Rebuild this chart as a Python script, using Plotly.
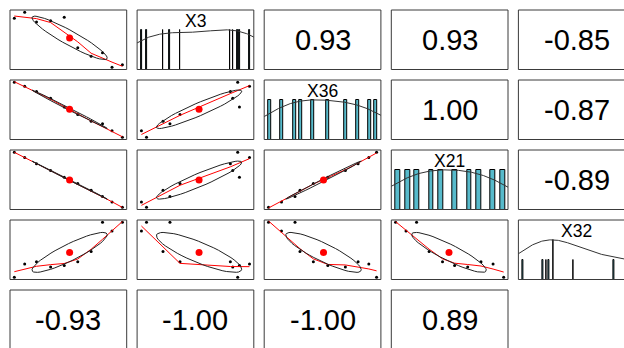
import numpy as np
import plotly.graph_objects as go

var_a = [0.0, 9.6, 20.5, 33.6, 46.2, 58.7, 71.1, 81.6, 90.4, 100.0]   # first (unlabelled) column variable
X3 = [89.1, 100.0, 82.3, 84.5, 90.7, 35.7, 20.0, 26.4, 0.0, 4.7]
X36 = [100.0, 92.8, 82.9, 71.1, 54.9, 41.5, 29.1, 24.5, 12.0, 0.0]
X21 = [100.0, 90.2, 79.0, 66.7, 54.6, 43.4, 31.0, 19.4, 9.6, 0.0]
X32 = [0.0, 24.0, 28.3, 18.9, 21.5, 28.3, 46.9, 100.0, 84.0, 100.0]

diag_labels = ["X3", "X36", "X21", "X32"]
cor_row1 = [0.93, 0.93, -0.85]          # row 1, columns 3-5
cor_row2 = [1.00, -0.87]                # row 2, columns 4-5
cor_row3 = [-0.89]                      # row 3, column 5
cor_row5 = [-0.93, -1.00, -1.00, 0.89]  # row 5, columns 1-4

# ---------------- style / geometry ----------------
W, H = 624, 348
PW, PH = 116.7, 59.5
COL_LEFT = [10 + 127.1 * j for j in range(5)]
ROW_TOP = [10 + 70 * i for i in range(5)]
HIST_COL = "#57BACB"
BIN_W = {"X3": 0.5, "X36": 2.8, "X21": 4.4, "X32": 0.5}
FONT = "Arial, 'Liberation Sans', sans-serif"
BORDER = "#3a3a3a"

row_vars = [X3, X36, X21, X32]
col_vars = [var_a, X3, X36, X21, X32]
cor_rows = [cor_row1, cor_row2, cor_row3]


def ext_range(v):
    v = np.asarray(v, float)
    lo, hi = v.min(), v.max()
    r = hi - lo
    return [lo - 0.04 * r, hi + 0.04 * r]


def lowess(x, y, f=2 / 3, iters=3):
    x = np.asarray(x, float)
    y = np.asarray(y, float)
    o = np.argsort(x, kind="stable")
    x, y = x[o], y[o]
    n = len(x)
    ns = max(min(int(f * n + 1e-7), n), 2)
    rw = np.ones(n)
    ys = np.zeros(n)
    rng = x[-1] - x[0]
    for it in range(iters + 1):
        nleft, nright = 0, ns - 1
        for i in range(n):
            while nright < n - 1 and (x[i] - x[nleft]) > (x[nright + 1] - x[i]):
                nleft += 1
                nright += 1
            h = max(x[i] - x[nleft], x[nright] - x[i])
            w = np.zeros(n)
            for j in range(nleft, n):
                rj = abs(x[j] - x[i])
                if rj <= 0.999 * h:
                    w[j] = 1.0 if rj <= 0.001 * h else (1 - (rj / h) ** 3) ** 3
                    if it > 0:
                        w[j] *= rw[j]
                elif x[j] > x[i]:
                    break
            a = w.sum()
            if a <= 0:
                ys[i] = y[i]
                continue
            w = w / a
            if h > 0:
                xa = (w * x).sum()
                c = (w * (x - xa) ** 2).sum()
                if np.sqrt(c) > 0.001 * rng:
                    b = (x[i] - xa) / c
                    w = w * (b * (x - xa) + 1)
            ys[i] = (w * y).sum()
        res = y - ys
        if it == iters:
            break
        sc = np.abs(res).mean()
        cmad = 6 * np.median(np.abs(res))
        if cmad < 1e-7 * sc:
            break
        ar = np.abs(res)
        rw = np.where(ar <= 0.001 * cmad, 1.0,
                      np.where(ar <= 0.999 * cmad, (1 - (ar / cmad) ** 2) ** 2, 0.0))
    return x, ys


def ellipse(x, y, segments=51):
    x = np.asarray(x, float)
    y = np.asarray(y, float)
    xm, ym = x.mean(), y.mean()
    xs, ysd = x.std(ddof=1), y.std(ddof=1)
    r = np.corrcoef(x, y)[0, 1]
    ang = np.arange(segments + 1) * 2 * np.pi / segments
    theta = np.sign(r) / np.sqrt(2) if abs(r) > 0 else 1 / np.sqrt(2)
    shape = np.diag([np.sqrt(1 + r), np.sqrt(max(1 - r, 0))]) @ np.array([[theta, theta], [-theta, theta]])
    uc = np.column_stack([np.cos(ang), np.sin(ang)])
    e = uc @ shape
    return e[:, 0] * xs + xm, e[:, 1] * ysd + ym, xm, ym


def density(v):
    v = np.asarray(v, float)
    n = len(v)
    sd = v.std(ddof=1)
    q75, q25 = np.percentile(v, [75, 25])
    lo = min(sd, (q75 - q25) / 1.34)
    bw = 1.2 * 1.06 * lo * n ** (-0.2)
    grid = np.linspace(v.min() - 3 * bw, v.max() + 3 * bw, 512)
    d = np.exp(-0.5 * ((grid[:, None] - v[None, :]) / bw) ** 2).sum(1)
    return grid, d / d.max()


fig = go.Figure()
axes = {}
shapes = []
annotations = []
counter = [0]


def panel_box(i, j):
    l = COL_LEFT[j]
    t = ROW_TOP[i]
    shapes.append(dict(type="rect", xref="paper", yref="paper",
                       x0=l / W, x1=(l + PW) / W, y0=1 - (t + PH) / H, y1=1 - t / H,
                       line=dict(color=BORDER, width=1), fillcolor="rgba(0,0,0,0)", layer="above"))


def new_axes(i, j, xr, yr):
    counter[0] += 1
    k = counter[0]
    l = COL_LEFT[j]
    t = ROW_TOP[i]
    vr = min(l + PW, W)
    vb = min(t + PH, H)
    x0, x1 = xr
    y0, y1 = yr
    x1v = x0 + (x1 - x0) * (vr - l) / PW
    y0v = y1 - (y1 - y0) * (vb - t) / PH
    sx = "" if k == 1 else str(k)
    axes["xaxis" + sx] = dict(domain=[l / W, vr / W], range=[x0, x1v], visible=False,
                              anchor="y" + sx, fixedrange=True)
    axes["yaxis" + sx] = dict(domain=[1 - vb / H, 1 - t / H], range=[y0v, y1], visible=False,
                              anchor="x" + sx, fixedrange=True)
    return "x" + sx, "y" + sx


def text_panel(i, j, val):
    l = COL_LEFT[j]
    t = ROW_TOP[i]
    annotations.append(dict(x=(l + PW / 2) / W, y=1 - (t + PH / 2) / H, xref="paper", yref="paper",
                            text=f"{val:.2f}", showarrow=False, xanchor="center", yanchor="middle",
                            font=dict(family=FONT, size=29, color="black")))
    panel_box(i, j)


for i in range(4):
    for j in range(5):
        if j < i + 1:
            xv = np.asarray(col_vars[j], float)
            yv = np.asarray(row_vars[i], float)
            xa, ya = new_axes(i, j, ext_range(xv), ext_range(yv))
            fig.add_trace(go.Scatter(x=xv, y=yv, mode="markers", xaxis=xa, yaxis=ya,
                                     marker=dict(color="black", size=3)))
            lx, ly = lowess(xv, yv)
            fig.add_trace(go.Scatter(x=lx, y=ly, mode="lines", xaxis=xa, yaxis=ya,
                                     line=dict(color="red", width=1)))
            ex, ey, xm, ym = ellipse(xv, yv)
            fig.add_trace(go.Scatter(x=ex, y=ey, mode="lines", xaxis=xa, yaxis=ya,
                                     line=dict(color="#222222", width=1)))
            fig.add_trace(go.Scatter(x=[xm], y=[ym], mode="markers", xaxis=xa, yaxis=ya,
                                     marker=dict(color="red", size=7)))
            panel_box(i, j)
        elif j == i + 1:
            name = diag_labels[i]
            v = np.asarray(row_vars[i], float)
            bw = BIN_W[name]
            start = np.floor(v.min() / bw) * bw
            edges = np.arange(start, v.max() + bw * 1.0001, bw)
            counts, edges = np.histogram(v, bins=edges)
            keep = counts > 0
            centers = (edges[:-1] + edges[1:]) / 2
            heights = counts / counts.max()
            xa, ya = new_axes(i, j, ext_range(v), [0, 1.5])
            fig.add_trace(go.Bar(x=centers[keep], y=heights[keep], width=[bw] * int(keep.sum()),
                                 xaxis=xa, yaxis=ya,
                                 marker=dict(color=HIST_COL, line=dict(color="black", width=1))))
            gx, gy = density(v)
            fig.add_trace(go.Scatter(x=gx, y=gy, mode="lines", xaxis=xa, yaxis=ya,
                                     line=dict(color="#333333", width=1)))
            l = COL_LEFT[j]
            t = ROW_TOP[i]
            annotations.append(dict(x=(l + PW / 2) / W, y=1 - (t + 11.3) / H, xref="paper", yref="paper",
                                    text=name, showarrow=False, xanchor="center", yanchor="middle",
                                    font=dict(family=FONT, size=17.5, color="black")))
            panel_box(i, j)
        else:
            text_panel(i, j, cor_rows[i][j - (i + 2)])

for j, val in enumerate(cor_row5):
    text_panel(4, j, val)

fig.update_layout(width=W, height=H, margin=dict(l=0, r=0, t=0, b=0),
                  paper_bgcolor="white", plot_bgcolor="white", showlegend=False,
                  bargap=0, shapes=shapes, annotations=annotations, **axes)

fig.write_html("out.html", config={"displayModeBar": False},
               post_script="document.body.style.margin='0';document.body.style.overflow='hidden';")
